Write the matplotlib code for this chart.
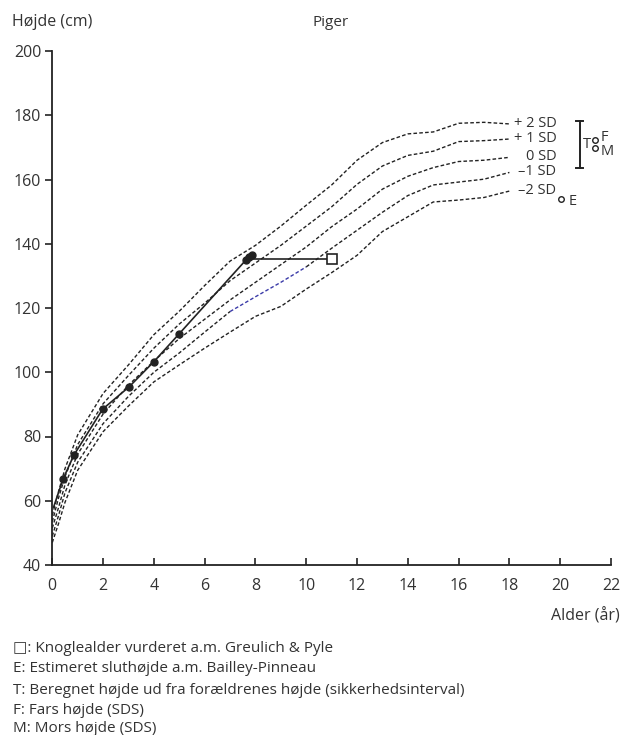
import matplotlib
matplotlib.use("Agg")
import matplotlib.pyplot as plt
import numpy as np

plt.rcParams['font.family'] = ['Open Sans', 'DejaVu Sans']

# Reference curves (age in years, height in cm)
ages = [0, 0.25, 0.5, 1, 2, 3, 4, 5, 6, 7, 8, 9, 10, 11, 12, 13, 14, 15, 16, 17, 18]
sd_p2 = [55.5, 63, 70, 80.5, 93.4, 102.3, 111.7, 119, 127, 134.6, 139.5, 145.5, 152, 158.3, 166, 171.5, 174.2, 174.8, 177.5, 177.8, 177.3]
sd_p1 = [53.5, 61, 67.5, 77.5, 90.2, 99, 107.5, 115, 121.5, 128.5, 134, 139.5, 145.5, 151.5, 158.5, 164.2, 167.5, 168.8, 171.8, 172.1, 172.6]
sd_0 = [51.5, 58, 65, 74.5, 87, 96, 103.5, 110.5, 116.5, 122.5, 128, 133.5, 139, 145.3, 150.8, 157, 161, 163.7, 165.6, 166, 166.9]
sd_m1 = [49, 55.5, 62.5, 72, 84, 92.5, 100, 106, 112.5, 118.9, 123.5, 128, 132.8, 138.6, 144.2, 149.8, 155, 158.3, 159.2, 160.1, 162.2]
sd_m2 = [47, 53, 59.5, 69.5, 81.5, 89.5, 97, 102.3, 107.5, 112.5, 117.4, 120.5, 125.9, 131, 136.4, 143.8, 148.4, 153, 153.6, 154.4, 156.4]
sd_labels = ["+ 2 SD", "+ 1 SD", "0 SD", "\u20131 SD", "\u20132 SD"]

# Patient measurements
pt_age = [0.05, 0.43, 0.85, 1.98, 3.03, 4.0, 5.0, 7.62, 7.74, 7.85]
pt_height = [58, 66.9, 74.2, 88.5, 95.5, 103.3, 112.0, 134.9, 135.9, 136.4]

# Bone age
bone_age = [7.65, 11.0]
bone_height = [135.2, 135.2]

# Target / parents / estimate
t_age, t_low, t_high = 20.76, 163.6, 178.3
f_age, f_height = 21.38, 172.3
m_age, m_height = 21.38, 169.8
e_age, e_height = 20.04, 153.9

xticks = list(range(0, 23, 2))
yticks = list(range(40, 201, 20))

W, H = 622, 735
fig = plt.figure(figsize=(W / 100, H / 100), dpi=100)
ax = fig.add_axes([52.3 / W, 1 - 565 / H, (611 - 52.3) / W, (565 - 51) / H])
ax.set_xlim(0, 22)
ax.set_ylim(40, 200)

dash = (0, (2.6, 1.6))
ages_arr = np.array(ages)
for vals in [sd_p2, sd_p1, sd_0, sd_m2]:
    ax.plot(ages, vals, color='#222222', lw=1.0, linestyle=dash)
# -1 SD drawn in pieces, middle part blue-ish as in the original
m1 = np.array(sd_m1)
pre = ages_arr <= 7
mid = (ages_arr >= 7) & (ages_arr <= 10)
post = ages_arr >= 10
ax.plot(ages_arr[pre], m1[pre], color='#222222', lw=1.0, linestyle=dash)
ax.plot(ages_arr[mid], m1[mid], color='#3a3aa8', lw=1.0, linestyle=dash)
ax.plot(ages_arr[post], m1[post], color='#222222', lw=1.0, linestyle=dash)

for lab, vals in zip(sd_labels, [sd_p2, sd_p1, sd_0, sd_m1, sd_m2]):
    ax.text(19.85, vals[-1] + 0.2, lab, ha='right', va='center', fontsize=10.5, color='#333333')

# patient curve
ax.plot(pt_age, pt_height, color='#222222', lw=1.2, zorder=4)
ax.plot(pt_age[1:], pt_height[1:], linestyle='none', marker='o', markersize=5,
        markerfacecolor='#222222', markeredgecolor='#222222', zorder=5)
ax.plot(bone_age, bone_height, color='#222222', lw=1.2, zorder=4)
ax.plot([bone_age[-1]], [bone_height[-1]], marker='s', markersize=7.5,
        markerfacecolor='white', markeredgecolor='#222222', markeredgewidth=1.2, zorder=6)

# target range
ax.plot([t_age, t_age], [t_low, t_high], color='#222222', lw=1.4)
for yv in (t_low, t_high):
    ax.plot([t_age - 0.12, t_age + 0.12], [yv, yv], color='#222222', lw=1.4)
ax.text(t_age + 0.15, (t_low + t_high) / 2 - 0.2, "T", ha='left', va='center', fontsize=10.5, color='#333333')
ax.plot([f_age], [f_height], marker='o', markersize=4, markerfacecolor='white',
        markeredgecolor='#222222', markeredgewidth=1.0)
ax.plot([m_age], [m_height], marker='o', markersize=4, markerfacecolor='white',
        markeredgecolor='#222222', markeredgewidth=1.0)
ax.text(f_age + 0.22, f_height + 0.8, "F", ha='left', va='center', fontsize=10.5, color='#333333')
ax.text(m_age + 0.22, m_height - 1.0, "M", ha='left', va='center', fontsize=10.5, color='#333333')
ax.plot([e_age], [e_height], marker='o', markersize=4, markerfacecolor='white',
        markeredgecolor='#222222', markeredgewidth=1.0)
ax.text(e_age + 0.3, e_height - 0.8, "E", ha='left', va='center', fontsize=10.5, color='#333333')

# axes styling
for s in ['top', 'right']:
    ax.spines[s].set_visible(False)
for s in ['left', 'bottom']:
    ax.spines[s].set_color('#222222')
    ax.spines[s].set_linewidth(1.3)
ax.set_xticks(xticks)
ax.set_yticks(yticks)
ax.tick_params(axis='y', direction='out', length=5, width=1.2, pad=3, labelsize=11.5,
               labelcolor='#333333', color='#222222')
ax.tick_params(axis='x', direction='in', length=5, width=1.2, pad=9, labelsize=11.5,
               labelcolor='#333333', color='#222222')

def px(x, y):
    return x / W, 1 - y / H

fig.text(*px(12, 22), "Højde (cm)", ha='left', va='center', fontsize=11.5, color='#333333')
fig.text(*px(312, 22), "Piger", ha='left', va='center', fontsize=11, color='#333333')
fig.text(*px(620, 616), "Alder (år)", ha='right', va='center', fontsize=11.5, color='#333333')

legend_lines = ["\u25a1: Knoglealder vurderet a.m. Greulich & Pyle",
                "E: Estimeret sluthøjde a.m. Bailley-Pinneau",
                "T: Beregnet højde ud fra forældrenes højde (sikkerhedsinterval)",
                "F: Fars højde (SDS)",
                "M: Mors højde (SDS)"]
ys = [648, 669, 690, 710, 729]
for t, y in zip(legend_lines, ys):
    fig.text(*px(13, y), t, ha='left', va='center', fontsize=11, color='#333333')

fig.savefig("out.png", dpi=100)
